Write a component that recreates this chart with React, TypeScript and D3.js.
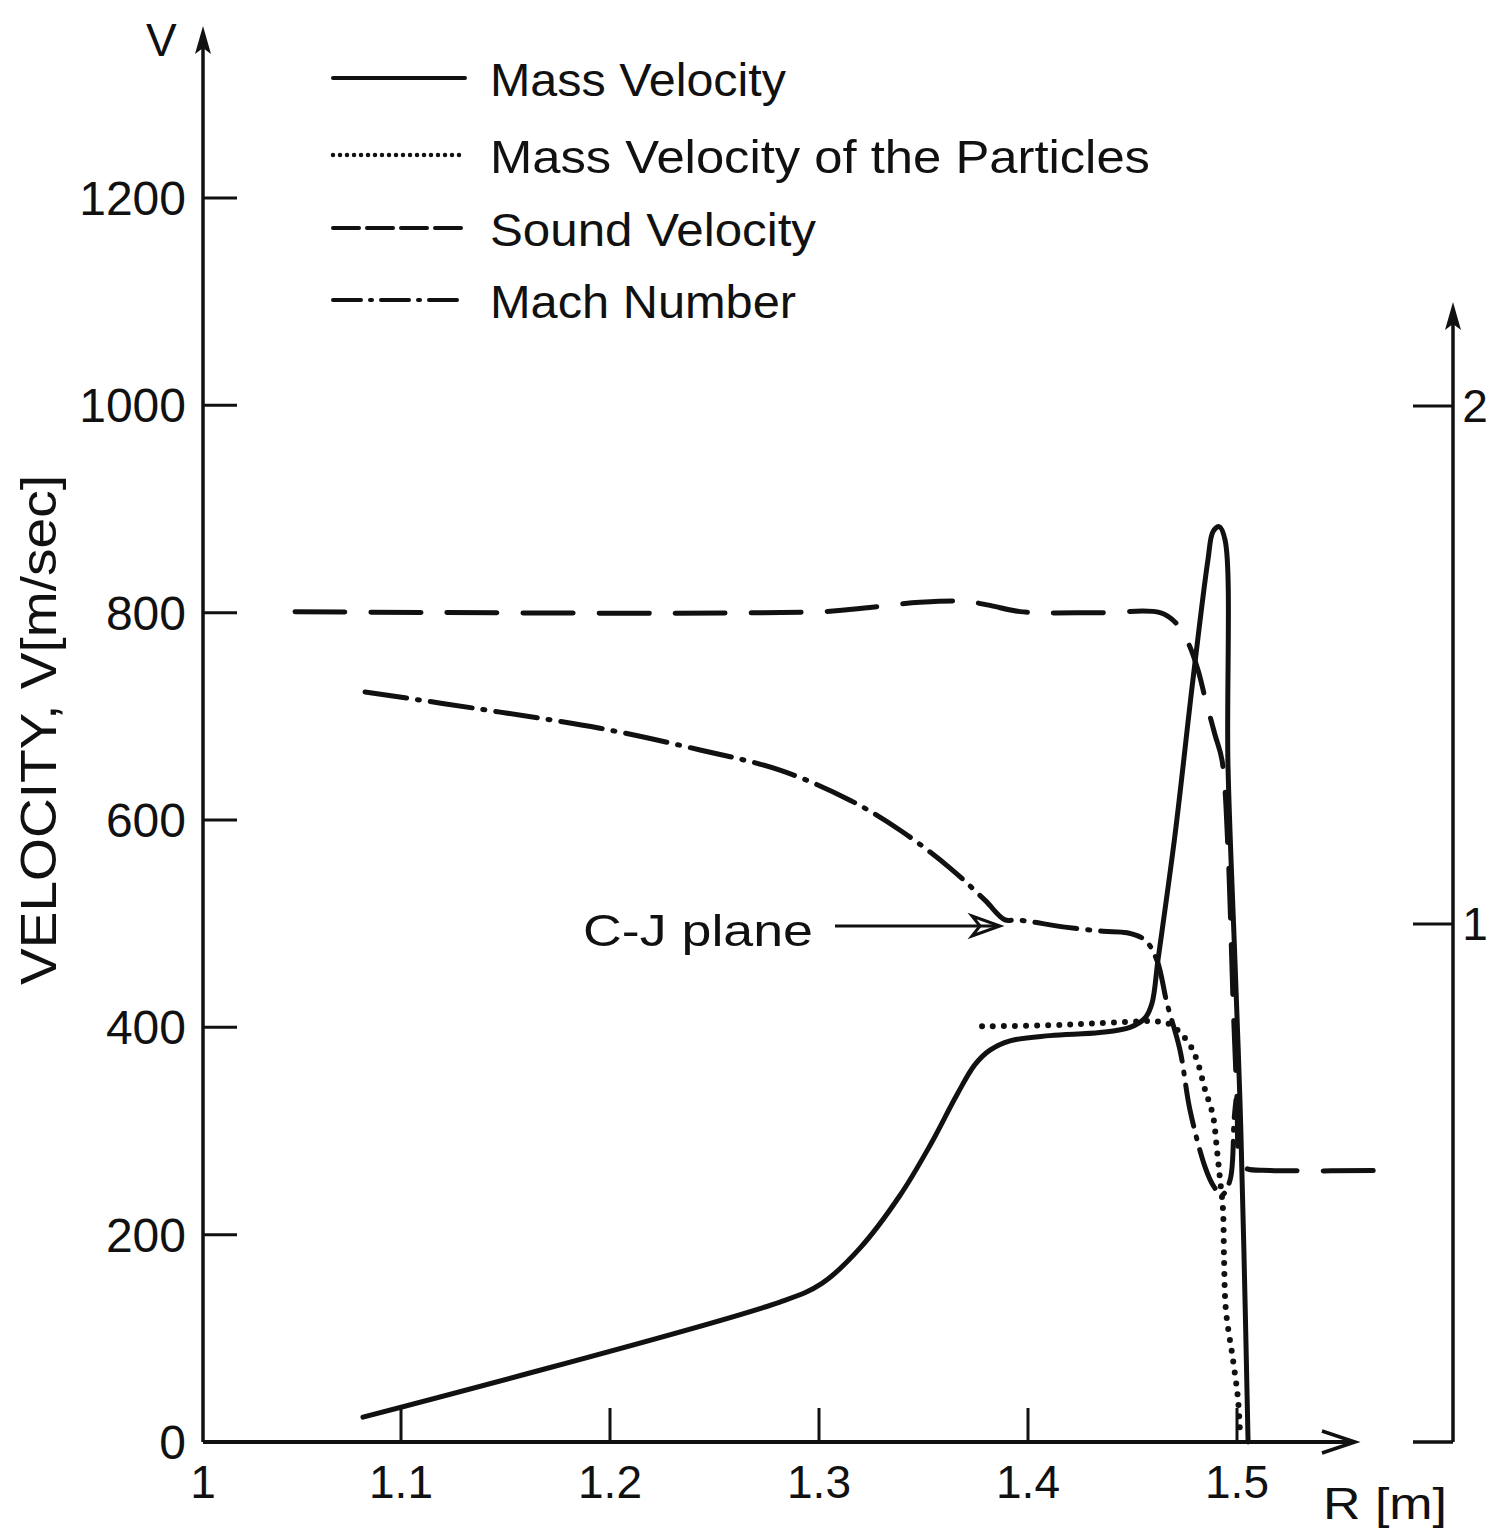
import React from "react";
import * as d3 from "d3";

// ---- data (R in metres, V in m/sec, Mach dimensionless) ----
const massVelR = [1.0818, 1.2813, 1.3014, 1.3196, 1.3388, 1.3531, 1.366, 1.3746, 1.3818, 1.3914, 1.4105, 1.4344, 1.4488, 1.456, 1.4593, 1.4622, 1.4703, 1.4789, 1.4861, 1.4885, 1.4914, 1.4943, 1.4957, 1.499, 1.5014, 1.5033, 1.5053];
const massVelV = [24, 135, 153, 187, 238, 286, 335, 364, 378, 387, 392, 395, 400, 409, 423, 465, 585, 735, 851, 878, 883, 870, 651, 465, 330, 185, 0];

const particleR = [1.378, 1.4105, 1.4344, 1.4584, 1.4646, 1.4689, 1.4727, 1.4775, 1.4809, 1.4847, 1.4885, 1.4904, 1.4919, 1.4933, 1.4938, 1.4947, 1.4981, 1.5005, 1.5014];
const particleV = [401, 402, 404, 406, 405, 402, 395, 383, 368, 340, 315, 282, 253, 224, 176, 127, 79, 41, 10];

const soundR = [1.0493, 1.3014, 1.3244, 1.3483, 1.3699, 1.3818, 1.3962, 1.4344, 1.4632, 1.4703, 1.4766, 1.4813, 1.4847, 1.4895, 1.4928, 1.4957, 1.4981, 1.5, 1.5014, 1.5043, 1.5158, 1.577];
const soundV = [801, 801, 805, 810, 811, 807, 801, 800, 800, 791, 771, 745, 718, 682, 658, 571, 426, 330, 272, 264, 262, 262];

const machR = [1.0828, 1.1474, 1.1952, 1.2431, 1.2813, 1.3148, 1.3388, 1.3627, 1.3794, 1.389, 1.3947, 1.4177, 1.4359, 1.4474, 1.456, 1.4617, 1.4665, 1.4727, 1.4775, 1.4847, 1.4885, 1.4928, 1.4967, 1.4986, 1.4995];
const machM = [1.448, 1.409, 1.378, 1.336, 1.297, 1.239, 1.181, 1.108, 1.046, 1.008, 1.008, 0.994, 0.986, 0.983, 0.969, 0.93, 0.847, 0.757, 0.641, 0.531, 0.496, 0.477, 0.506, 0.622, 0.66];

const vTicks = [0, 200, 400, 600, 800, 1000, 1200];
const rTicks = [1, 1.1, 1.2, 1.3, 1.4, 1.5];
const rTickLabels = ["1", "1.1", "1.2", "1.3", "1.4", "1.5"];
const machTicks = [1, 2];

const legendLabels = ["Mass Velocity", "Mass Velocity of the Particles", "Sound Velocity", "Mach Number"];

const W = 1509;
const H = 1536;
const FONT = "'Liberation Sans', Arial, sans-serif";

export default function App() {
  const x = d3.scaleLinear().domain([1, 1.5]).range([192, 1237]);
  const y = d3.scaleLinear().domain([0, 1200]).range([1442, 198]);
  const ym = d3.scaleLinear().domain([0, 2]).range([1442, 406]);

  const axisLeftX = 203;
  const axisRightX = 1453;
  const axisY = y(0);

  const line = d3
    .line<[number, number]>()
    .x((d) => d[0])
    .y((d) => d[1])
    .curve(d3.curveCatmullRom.alpha(0.5));

  const massPts = massVelR.map((r, i) => [x(r), y(massVelV[i])] as [number, number]);
  const partPts = particleR.map((r, i) => [x(r), y(particleV[i])] as [number, number]);
  const soundPts = soundR.map((r, i) => [x(r), y(soundV[i])] as [number, number]);
  const machPts = machR.map((r, i) => [x(r), ym(machM[i])] as [number, number]);

  const styles = [
    { dash: undefined, width: 5 },
    { dash: "0 11", width: 6 },
    { dash: "50 26", width: 5 },
    { dash: "42 11 2 11", width: 5 },
  ];
  const legendStyles = [
    { dash: undefined, width: 4 },
    { dash: "0 7", width: 4.5 },
    { dash: "26 8", width: 4 },
    { dash: "28 9 2 9", width: 4 },
  ];
  const legendY = [78, 155, 228, 300];
  const legendTextW = [296, 660, 326, 306];

  const stroke = "#111";

  return (
    <svg
      width={W}
      height={H}
      style={{ position: "absolute", left: 0, top: 0, background: "#fff" }}
      fontFamily={FONT}
    >
      <rect x={0} y={0} width={W} height={H} fill="#fff" />

      {/* left axis */}
      <line x1={axisLeftX} y1={axisY} x2={axisLeftX} y2={40} stroke={stroke} strokeWidth={3.5} />
      <path d={`M${axisLeftX},26 L${axisLeftX - 8},54 L${axisLeftX},48 L${axisLeftX + 8},54 Z`} fill={stroke} />
      <text x={146} y={56} fontSize={46} fill={stroke}>V</text>

      {vTicks.map((v) => (
        <g key={v}>
          {v > 0 && (
            <line x1={axisLeftX} x2={axisLeftX + 34} y1={y(v)} y2={y(v)} stroke={stroke} strokeWidth={3} />
          )}
          <text x={186} y={y(v) + 17} fontSize={48} textAnchor="end" fill={stroke}>
            {v}
          </text>
        </g>
      ))}

      {/* y title */}
      <text
        transform={`translate(56,${730}) rotate(-90)`}
        textAnchor="middle"
        fontSize={50}
        fill={stroke}
        textLength={510}
        lengthAdjust="spacingAndGlyphs"
      >
        VELOCITY, V[m/sec]
      </text>

      {/* x axis */}
      <line x1={axisLeftX} y1={axisY} x2={1355} y2={axisY} stroke={stroke} strokeWidth={4} />
      <path d={`M1322,${axisY - 11} L1355,${axisY} L1322,${axisY + 11}`} fill="none" stroke={stroke} strokeWidth={3.5} />
      {rTicks.map((r, i) => (
        <g key={r}>
          {i > 0 && <line x1={x(r)} x2={x(r)} y1={axisY} y2={axisY - 34} stroke={stroke} strokeWidth={3} />}
          <text x={i === 0 ? axisLeftX : x(r)} y={1498} fontSize={46} textAnchor="middle" fill={stroke}>
            {rTickLabels[i]}
          </text>
        </g>
      ))}
      <text x={1323} y={1519} fontSize={44} fill={stroke} textLength={124} lengthAdjust="spacingAndGlyphs">
        R [m]
      </text>

      {/* right axis (Mach) */}
      <line x1={axisRightX} y1={axisY} x2={axisRightX} y2={316} stroke={stroke} strokeWidth={3.5} />
      <path d={`M${axisRightX},302 L${axisRightX - 8},330 L${axisRightX},324 L${axisRightX + 8},330 Z`} fill={stroke} />
      <line x1={axisRightX - 40} x2={axisRightX} y1={axisY} y2={axisY} stroke={stroke} strokeWidth={3.5} />
      {machTicks.map((m) => (
        <g key={m}>
          <line x1={axisRightX - 40} x2={axisRightX} y1={ym(m)} y2={ym(m)} stroke={stroke} strokeWidth={3} />
          <text x={axisRightX + 22} y={ym(m) + 16} fontSize={46} textAnchor="middle" fill={stroke}>
            {m}
          </text>
        </g>
      ))}

      {/* curves */}
      {[massPts, partPts, soundPts, machPts].map((pts, i) => (
        <path
          key={i}
          d={line(pts) || ""}
          fill="none"
          stroke={stroke}
          strokeWidth={styles[i].width}
          strokeDasharray={styles[i].dash}
          strokeLinecap="round"
          strokeLinejoin="round"
        />
      ))}

      {/* C-J plane annotation */}
      <text x={583} y={946} fontSize={44} fill={stroke} textLength={230} lengthAdjust="spacingAndGlyphs">
        C-J plane
      </text>
      <line x1={835} y1={926} x2={998} y2={926} stroke={stroke} strokeWidth={3} />
      <path d="M972,916 L1000,926 L972,936 L980,926 Z" fill="none" stroke={stroke} strokeWidth={3} />

      {/* legend */}
      {legendLabels.map((lab, i) => (
        <g key={lab}>
          <line
            x1={333}
            x2={465}
            y1={legendY[i]}
            y2={legendY[i]}
            stroke={stroke}
            strokeWidth={legendStyles[i].width}
            strokeDasharray={legendStyles[i].dash}
            strokeLinecap="round"
          />
          <text
            x={490}
            y={legendY[i] + 18}
            fontSize={46}
            fill={stroke}
            textLength={legendTextW[i]}
            lengthAdjust="spacingAndGlyphs"
          >
            {lab}
          </text>
        </g>
      ))}
    </svg>
  );
}
